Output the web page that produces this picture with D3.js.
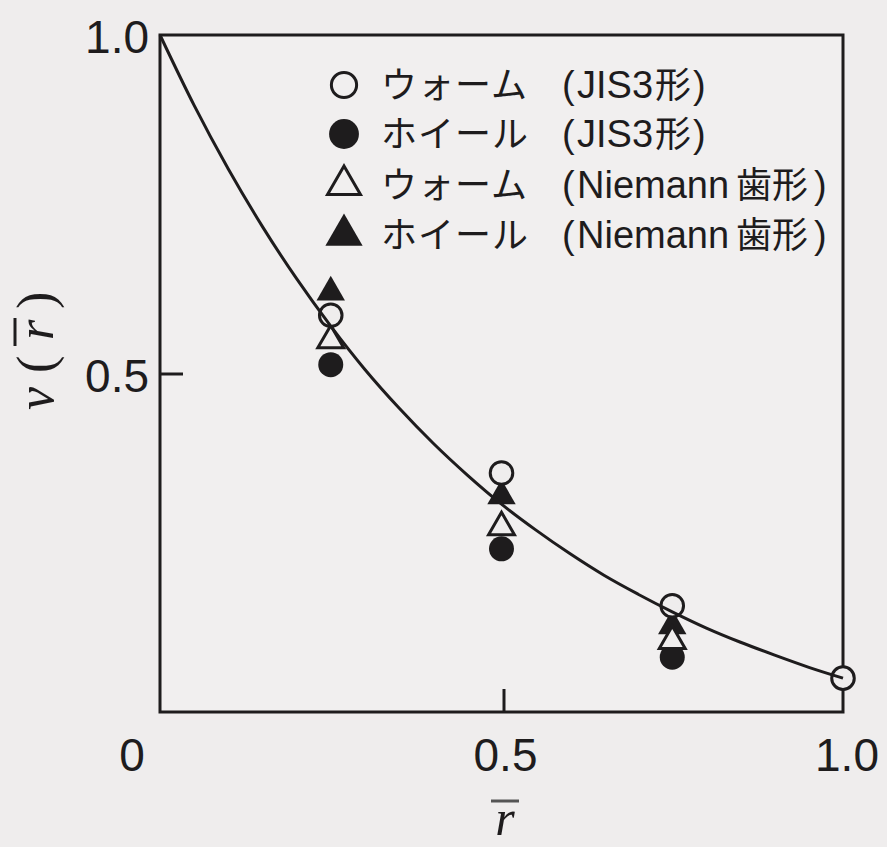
<!DOCTYPE html>
<html>
<head>
<meta charset="utf-8">
<script src="https://cdn.jsdelivr.net/npm/d3@7"></script>
<style>
  html, body { margin: 0; padding: 0; background: #efeded; }
  svg { display: block; }
</style>
</head>
<body>
<svg id="chart" width="887" height="847"></svg>
<script>
// ---- data ----
const rPositions = [0.25, 0.5, 0.75, 1.0];
const wormJIS = [0.586, 0.353, 0.157, 0.05];        // ○
const wheelJIS = [0.513, 0.241, 0.081, null];       // ●
const wormNiemann = [0.549, 0.273, 0.105, null];    // △
const wheelNiemann = [0.62, 0.319, 0.127, null];    // ▲
const curveR = [0, 0.05, 0.1, 0.15, 0.2, 0.25, 0.3, 0.35, 0.4, 0.45, 0.5, 0.55, 0.6, 0.65, 0.7, 0.75, 0.8, 0.85, 0.9, 0.95, 1.0];
const curveV = [1.0, 0.896, 0.802, 0.717, 0.640, 0.570, 0.506, 0.449, 0.397, 0.350, 0.307, 0.269, 0.234, 0.202, 0.174, 0.148, 0.124, 0.103, 0.084, 0.066, 0.050];
const xTickValues = [0, 0.5, 1.0];
const xTickLabels = ["0", "0.5", "1.0"];
const yTickValues = [0.5, 1.0];
const yTickLabels = ["0.5", "1.0"];
const legendLabels = [
  ["ウォーム", "JIS3", "形"],
  ["ホイール", "JIS3", "形"],
  ["ウォーム", "Niemann", "歯形"],
  ["ホイール", "Niemann", "歯形"]
];

// ---- layout ----
const svg = d3.select("#chart");
const ink = "#1e1c1d";
const bg = "#efeded";
const pL = 160, pR = 843, pT = 35, pB = 712;
const x = d3.scaleLinear().domain([0, 1]).range([pL, pR]);
const y = d3.scaleLinear().domain([0, 1]).range([pB, pT]);

// frame
svg.append("rect")
  .attr("x", pL).attr("y", pT)
  .attr("width", pR - pL).attr("height", pB - pT)
  .attr("fill", "#f1efef").attr("stroke", ink).attr("stroke-width", 3);

// inner ticks at 0.5
const xAxis = d3.axisTop(x).tickValues([0.5]).tickSize(23).tickFormat("");
svg.append("g").attr("transform", `translate(2,${pB})`).call(xAxis)
  .call(g => g.select(".domain").remove())
  .call(g => g.selectAll("line").attr("stroke", ink).attr("stroke-width", 3));
const yAxis = d3.axisRight(y).tickValues([0.5]).tickSize(23).tickFormat("");
svg.append("g").attr("transform", `translate(${pL},0)`).call(yAxis)
  .call(g => g.select(".domain").remove())
  .call(g => g.selectAll("line").attr("stroke", ink).attr("stroke-width", 3));

// tick labels
const numFont = "'Liberation Sans', Arial, sans-serif";
svg.append("g").selectAll("text").data(xTickValues).join("text")
  .attr("x", (d, i) => i === 0 ? x(d) - 28 : x(d) + 4)
  .attr("y", 771)
  .attr("text-anchor", "middle")
  .attr("font-family", numFont).attr("font-size", 46).attr("fill", ink)
  .text((d, i) => xTickLabels[i]);
svg.append("g").selectAll("text").data(yTickValues).join("text")
  .attr("x", 149)
  .attr("y", d => y(d) + 18)
  .attr("text-anchor", "end")
  .attr("font-family", numFont).attr("font-size", 46).attr("fill", ink)
  .text((d, i) => yTickLabels[i]);

// axis titles
const serif = "'Liberation Serif', 'DejaVu Serif', serif";
svg.append("text").attr("x", 505).attr("y", 835).attr("text-anchor", "middle")
  .attr("font-family", serif).attr("font-style", "italic").attr("font-size", 50).attr("fill", ink)
  .text("r");
svg.append("line").attr("x1", 491).attr("x2", 519).attr("y1", 801).attr("y2", 801)
  .attr("stroke", "#555").attr("stroke-width", 3);

const yl = svg.append("g").attr("transform", "translate(37,352) rotate(-90)");
const ylParts = [["v", -58, "italic"], ["(", -21, "normal"], ["r", 12, "italic"], [")", 43, "normal"]];
yl.selectAll("text").data(ylParts).join("text")
  .attr("x", d => d[1]).attr("y", 16)
  .attr("font-family", serif).attr("font-style", d => d[2]).attr("font-size", 52).attr("fill", ink)
  .text(d => d[0]);
yl.append("line").attr("x1", 6).attr("x2", 34).attr("y1", -22).attr("y2", -22)
  .attr("stroke", ink).attr("stroke-width", 3);

// markers
const sym = {
  oc: d3.symbol().type(d3.symbolCircle).size(400),
  fc: d3.symbol().type(d3.symbolCircle).size(490),
  ot: d3.symbol().type(d3.symbolTriangle).size(290),
  ft: d3.symbol().type(d3.symbolTriangle).size(350)
};
const series = [
  { vals: wheelNiemann, s: "ft", fill: ink, stroke: "none" },
  { vals: wheelJIS, s: "fc", fill: ink, stroke: "none" },
  { vals: wormNiemann, s: "ot", fill: bg, stroke: ink },
  { vals: wormJIS, s: "oc", fill: bg, stroke: ink }
];
series.forEach(se => {
  const pts = rPositions.map((r, i) => [r, se.vals[i]]).filter(p => p[1] != null);
  svg.append("g").selectAll("path").data(pts).join("path")
    .attr("transform", d => `translate(${x(d[0])},${y(d[1])})`)
    .attr("d", sym[se.s]())
    .attr("fill", se.fill).attr("stroke", se.stroke).attr("stroke-width", 3);
});

// curve
const line = d3.line().x(d => x(d[0])).y(d => y(d[1])).curve(d3.curveMonotoneX);
svg.append("path").datum(curveR.map((r, i) => [r, curveV[i]]))
  .attr("d", line).attr("fill", "none").attr("stroke", ink).attr("stroke-width", 3);

// legend
const legY = [85, 134, 185, 235];
const legSym = [
  { s: d3.symbol().type(d3.symbolCircle).size(500), fill: "none", stroke: ink, dy: 0 },
  { s: d3.symbol().type(d3.symbolCircle).size(700), fill: ink, stroke: "none", dy: 0 },
  { s: d3.symbol().type(d3.symbolTriangle).size(470), fill: "none", stroke: ink, dy: 0 },
  { s: d3.symbol().type(d3.symbolTriangle).size(600), fill: ink, stroke: "none", dy: 0 }
];
const jpFont = "'Noto Sans CJK JP', sans-serif";
const leg = svg.append("g");
legendLabels.forEach((parts, i) => {
  const cy = legY[i];
  leg.append("path")
    .attr("transform", `translate(344,${cy + legSym[i].dy})`)
    .attr("d", legSym[i].s())
    .attr("fill", legSym[i].fill).attr("stroke", legSym[i].stroke).attr("stroke-width", 3);
  const base = cy + 13;
  const t = leg.append("text").attr("y", base).attr("fill", ink);
  t.append("tspan").attr("x", 381).attr("font-family", jpFont).attr("font-size", 36)
    .attr("letter-spacing", 1).text(parts[0]);
  t.append("tspan").attr("x", 562).attr("font-family", numFont).attr("font-size", 38).text("(");
  t.append("tspan").attr("x", 577).attr("font-family", numFont).attr("font-size", 38).text(parts[1]);
  const jx = parts[1] === "JIS3" ? 655 : 736;
  t.append("tspan").attr("x", jx).attr("font-family", jpFont).attr("font-size", 36).text(parts[2]);
  t.append("tspan").attr("x", parts[1] === "JIS3" ? 693 : 814).attr("font-family", numFont).attr("font-size", 38).text(")");
});
</script>
</body>
</html>
